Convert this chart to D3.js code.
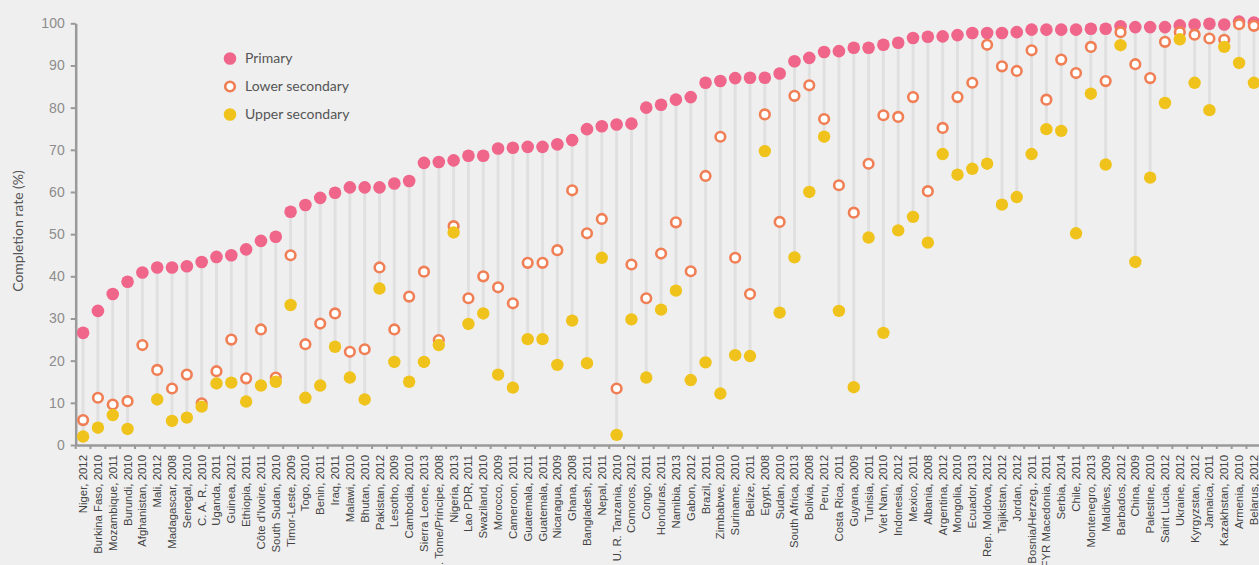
<!DOCTYPE html>
<html>
<head>
<meta charset="utf-8">
<script src="https://cdn.jsdelivr.net/npm/d3@7"></script>
<style>
  body { margin: 0; background: #efefef; }
  svg { display: block; font-family: Lato, "Open Sans", sans-serif; }
</style>
</head>
<body>
<svg width="1259" height="565"></svg>
<script>
let countries = [
  "Niger, 2012", "Burkina Faso, 2010", "Mozambique, 2011", "Burundi, 2010", "Afghanistan, 2010",
  "Mali, 2012", "Madagascar, 2008", "Senegal, 2010", "C. A. R., 2010", "Uganda, 2011",
  "Guinea, 2012", "Ethiopia, 2011", "Côte d'Ivoire, 2011", "South Sudan, 2010", "Timor-Leste, 2009",
  "Togo, 2010", "Benin, 2011", "Iraq, 2011", "Malawi, 2010", "Bhutan, 2010",
  "Pakistan, 2012", "Lesotho, 2009", "Cambodia, 2010", "Sierra Leone, 2013", "S. Tome/Principe, 2008",
  "Nigeria, 2013", "Lao PDR, 2011", "Swaziland, 2010", "Morocco, 2009", "Cameroon, 2011",
  "Guatemala, 2011", "Guatemala, 2011 ", "Nicaragua, 2009", "Ghana, 2008", "Bangladesh, 2011",
  "Nepal, 2011", "U. R. Tanzania, 2010", "Comoros, 2012", "Congo, 2011", "Honduras, 2011",
  "Namibia, 2013", "Gabon, 2012", "Brazil, 2011", "Zimbabwe, 2010", "Suriname, 2010",
  "Belize, 2011", "Egypt, 2008", "Sudan, 2010", "South Africa, 2013", "Bolivia, 2008",
  "Peru, 2012", "Costa Rica, 2011", "Guyana, 2009", "Tunisia, 2011", "Viet Nam, 2010",
  "Indonesia, 2012", "Mexico, 2011", "Albania, 2008", "Argentina, 2012", "Mongolia, 2010",
  "Ecuador, 2013", "Rep. Moldova, 2012", "Tajikistan, 2012", "Jordan, 2012", "Bosnia/Herzeg., 2011",
  "TFYR Macedonia, 2011", "Serbia, 2014", "Chile, 2011", "Montenegro, 2013", "Maldives, 2009",
  "Barbados, 2012", "China, 2009", "Palestine, 2010", "Saint Lucia, 2012", "Ukraine, 2012",
  "Kyrgyzstan, 2012", "Jamaica, 2011", "Kazakhstan, 2010", "Armenia, 2010", "Belarus, 2012"
];

let primary = [
  26.6, 31.8, 35.8, 38.7, 40.9, 42.1, 42.1, 42.4, 43.4, 44.6,
  45.0, 46.4, 48.4, 49.4, 55.3, 56.9, 58.6, 59.8, 61.1, 61.1,
  61.1, 62.0, 62.6, 66.9, 67.1, 67.5, 68.6, 68.6, 70.3, 70.5,
  70.7, 70.7, 71.3, 72.3, 74.9, 75.6, 76.0, 76.2, 80.0, 80.7,
  81.9, 82.5, 85.9, 86.3, 87.0, 87.1, 87.1, 88.1, 91.0, 91.8,
  93.2, 93.4, 94.2, 94.2, 94.9, 95.4, 96.5, 96.8, 96.9, 97.2,
  97.7, 97.7, 97.7, 97.9, 98.5, 98.5, 98.5, 98.5, 98.7, 98.7,
  99.3, 99.1, 99.1, 99.1, 99.5, 99.7, 99.9, 99.7, 100.4, 100.2
];

let lowerSec = [
  5.9, 11.2, 9.6, 10.4, 23.7, 17.8, 13.4, 16.7, 9.9, 17.5,
  25.0, 15.8, 27.4, 16.0, 45.0, 23.9, 28.8, 31.2, 22.1, 22.7,
  42.1, 27.4, 35.2, 41.1, 24.9, 51.9, 34.8, 40.0, 37.4, 33.6,
  43.2, 43.2, 46.2, 60.4, 50.2, 53.6, 13.4, 42.8, 34.8, 45.4,
  52.8, 41.2, 63.8, 73.1, 44.4, 35.8, 78.4, 52.9, 82.8, 85.3,
  77.3, 61.6, 55.1, 66.7, 78.2, 77.8, 82.5, 60.2, 75.2, 82.5,
  85.9, 94.9, 89.8, 88.7, 93.6, 81.9, 91.4, 88.2, 94.4, 86.3,
  97.9, 90.3, 87.0, 95.6, 97.9, 97.3, 96.4, 96.1, 99.8, 99.4
];

let upperSec = [
  2.0, 4.1, 7.1, 3.8, null, 10.8, 5.7, 6.5, 9.1, 14.6,
  14.8, 10.3, 14.1, 15.0, 33.2, 11.2, 14.1, 23.3, 16.0, 10.8,
  37.1, 19.7, 15.0, 19.7, 23.7, 50.4, 28.7, 31.2, 16.7, 13.6,
  25.1, 25.1, 19.0, 29.5, 19.4, 44.4, 2.4, 29.8, 16.0, 32.1,
  36.6, 15.4, 19.6, 12.2, 21.3, 21.1, 69.7, 31.4, 44.5, 60.0,
  73.1, 31.8, 13.7, 49.2, 26.6, 50.9, 54.1, 48.0, 69.0, 64.1,
  65.5, 66.7, 57.0, 58.8, 69.0, 74.9, 74.5, 50.2, 83.3, 66.5,
  94.8, 43.4, 63.4, 81.1, 96.2, 85.9, 79.4, 94.4, 90.6, 85.9
];

let yTicks = [0, 10, 20, 30, 40, 50, 60, 70, 80, 90, 100];

let seriesNames = ["Primary", "Lower secondary", "Upper secondary"];

let colPrimary = "#f0658a";
let colLower = "#f07f55";
let colUpper = "#f0c31c";

let svg = d3.select("svg");

var padding = {t: 23.3, l: 75.7, b: 120};
var bandW = 14.82;
var chartHeight = 445 - padding.t;

let rows = countries.map(function(c, i) {
  return {name: c, p: primary[i], l: lowerSec[i], u: upperSec[i]};
});

var x = d3.scaleBand()
  .domain(countries)
  .range([padding.l, padding.l + bandW * countries.length]);

var y = d3.scaleLinear()
  .domain([0, 100])
  .range([445, padding.t]);

// connectors
svg.append("g").selectAll("line")
  .data(rows)
  .join("line")
    .attr("x1", d => x(d.name) + x.bandwidth() / 2)
    .attr("x2", d => x(d.name) + x.bandwidth() / 2)
    .attr("y1", d => y(d.p))
    .attr("y2", d => y(d3.min([d.l, d.u].filter(v => v != null))))
    .attr("stroke", "#e0e0e0")
    .attr("stroke-width", 3);

// axes
let yAxis = svg.append("g")
  .attr("transform", "translate(" + padding.l + ",0)")
  .call(d3.axisLeft(y).tickValues(yTicks).tickSize(5).tickPadding(6).tickSizeOuter(0));
yAxis.select(".domain").attr("stroke", "#9a9a9a").attr("stroke-width", 2.5);
yAxis.selectAll(".tick line").attr("stroke", "#9a9a9a").attr("stroke-width", 2);
yAxis.selectAll("text").attr("fill", "#8c8c8c").style("font-size", "14px");

let xAxis = svg.append("g")
  .attr("transform", "translate(0,445)")
  .call(d3.axisBottom(x).tickSize(0).tickSizeOuter(0));
xAxis.select(".domain").attr("stroke", "#9a9a9a").attr("stroke-width", 2.5);
xAxis.selectAll(".tick line").remove();
xAxis.selectAll("text")
  .attr("transform", "rotate(-90)")
  .attr("text-anchor", "end")
  .attr("x", -10)
  .attr("y", 0)
  .attr("dy", ".35em")
  .attr("fill", "#444")
  .style("font-size", "11.4px");

// boundary ticks on the x axis
svg.append("g").selectAll("line")
  .data(countries)
  .join("line")
    .attr("x1", d => x(d))
    .attr("x2", d => x(d))
    .attr("y1", 445)
    .attr("y2", 449)
    .attr("stroke", "#9a9a9a")
    .attr("stroke-width", 2);

// dots
let dotsG = svg.append("g");
dotsG.selectAll("circle.p")
  .data(rows)
  .join("circle")
    .attr("class", "p")
    .attr("cx", d => x(d.name) + x.bandwidth() / 2)
    .attr("cy", d => y(d.p))
    .attr("r", 6.3)
    .attr("fill", colPrimary);

dotsG.selectAll("circle.l")
  .data(rows)
  .join("circle")
    .attr("class", "l")
    .attr("cx", d => x(d.name) + x.bandwidth() / 2)
    .attr("cy", d => y(d.l))
    .attr("r", 4.8)
    .attr("fill", "#fff")
    .attr("stroke", colLower)
    .attr("stroke-width", 2.6);

dotsG.selectAll("circle.u")
  .data(rows.filter(d => d.u != null))
  .join("circle")
    .attr("class", "u")
    .attr("cx", d => x(d.name) + x.bandwidth() / 2)
    .attr("cy", d => y(d.u))
    .attr("r", 6.2)
    .attr("fill", colUpper);

// y title
svg.append("text")
  .attr("transform", "translate(23,231) rotate(-90)")
  .attr("text-anchor", "middle")
  .attr("fill", "#555")
  .style("font-size", "14px")
  .text("Completion rate (%)");

// legend
let legend = svg.append("g").attr("transform", "translate(230,58.5)");
seriesNames.forEach(function(s, i) {
  let g = legend.append("g").attr("transform", "translate(0," + (i * 28) + ")");
  if (i == 1) {
    g.append("circle").attr("r", 4.8).attr("fill", "#fff").attr("stroke", colLower).attr("stroke-width", 2.6);
  } else {
    g.append("circle").attr("r", 6.3).attr("fill", i == 0 ? colPrimary : colUpper);
  }
  g.append("text")
    .attr("x", 15)
    .attr("dy", ".35em")
    .attr("fill", "#555")
    .style("font-size", "14px")
    .text(s);
});
</script>
</body>
</html>
